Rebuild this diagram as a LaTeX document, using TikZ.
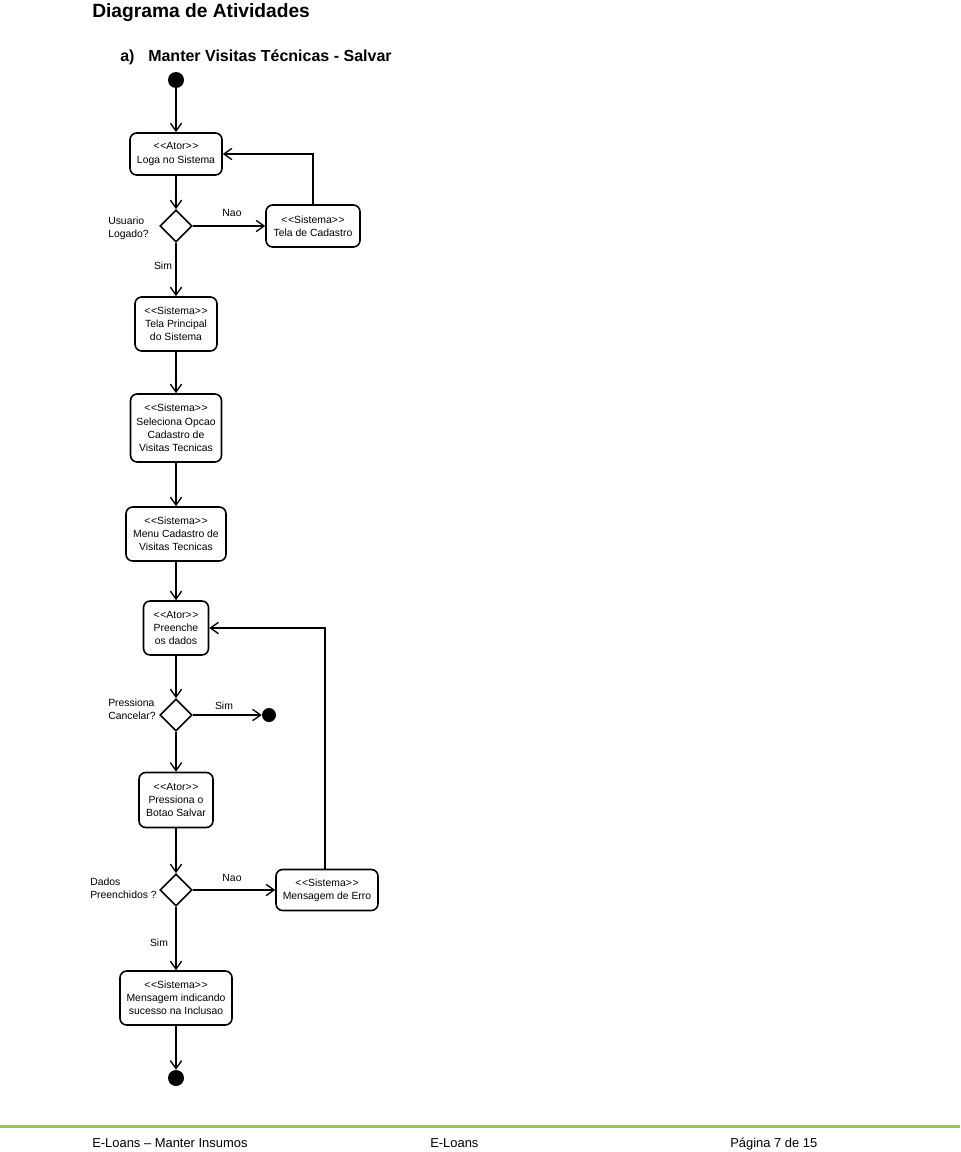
\documentclass[tikz,border=0pt]{standalone}
\usepackage{fontspec}
\setmainfont{Liberation Sans}
\newfontfamily\dia{Liberation Sans}
\usetikzlibrary{shapes.geometric,arrows.meta}
\newcommand\stereo[1]{<\kern0.5pt<#1>\kern0.5pt>}
\definecolor{footgreen}{RGB}{146,200,80}
\begin{document}
\begin{tikzpicture}[x=0.75pt,y=-0.75pt,
  act/.style={draw, line width=1.2pt, rounded corners=5pt, align=center, inner sep=1pt, font=\dia\fontsize{7.8}{9.9}\selectfont},
  dec/.style={draw, diamond, line width=1.2pt, minimum width=24pt, minimum height=24pt, inner sep=0pt},
  flow/.style={line width=1.2pt, -{Straight Barb[length=6pt,width=8.5pt,line width=1pt]}},
  lbl/.style={font=\dia\fontsize{7.8}{9.9}\selectfont, inner sep=0pt},
  dot/.style={circle, fill=black, inner sep=0pt},
  head/.style={anchor=base west, inner sep=0pt, font=\bfseries},
  foot/.style={anchor=base west, inner sep=0pt, font=\fontsize{9.7}{11}\selectfont},
]
\useasboundingbox (0,0) rectangle (960,1152);

% headings
\node[head, font=\fontsize{14.4}{16}\selectfont\bfseries] (title) at (92,17.5) {Diagrama de Atividades};
\node[head, font=\fontsize{12}{14}\selectfont\bfseries] (suba) at (120,62) {a)};
\node[head, font=\fontsize{12}{14}\selectfont\bfseries] (subt) at (148,62) {Manter Visitas Técnicas - Salvar};

% nodes
\node[dot, minimum size=12pt] (start) at (176,80) {};
\node[act, minimum width=69pt, minimum height=31.5pt] (b1) at (176,154) {\stereo{Ator}\\Loga no Sistema};
\node[dec] (d1) at (176,226) {};
\node[lbl, anchor=west, align=left] (q1) at (108,228.5) {Usuario\\Logado?};
\node[act, minimum width=70.5pt, minimum height=31.5pt] (cad) at (313,226) {\stereo{Sistema}\\Tela de Cadastro};
\node[lbl] (nao1) at (232,213) {Nao};
\node[lbl] (sim1) at (163,266) {Sim};
\node[act, minimum width=61.5pt, minimum height=40.5pt] (tp) at (176,324) {\stereo{Sistema}\\Tela Principal\\do Sistema};
\node[act, minimum width=68.25pt, minimum height=51pt] (sel) at (176,428) {\stereo{Sistema}\\Seleciona Opcao\\Cadastro de\\Visitas Tecnicas};
\node[act, minimum width=75pt, minimum height=40.5pt] (menu) at (176,534) {\stereo{Sistema}\\Menu Cadastro de\\Visitas Tecnicas};
\node[act, minimum width=48.75pt, minimum height=40.5pt] (pre) at (176,628) {\stereo{Ator}\\Preenche\\os dados};
\node[dec] (d2) at (176,715) {};
\node[lbl, anchor=west, align=left] (q2) at (108,709.5) {Pressiona\\Cancelar?};
\node[dot, minimum size=10.5pt] (end1) at (269,715) {};
\node[lbl] (sim2) at (224,706) {Sim};
\node[act, minimum width=55.5pt, minimum height=41.25pt] (sal) at (176,800) {\stereo{Ator}\\Pressiona o\\Botao Salvar};
\node[dec] (d3) at (176,890) {};
\node[lbl, anchor=west, align=left] (q3) at (90,888.5) {Dados\\Preenchidos ?};
\node[act, minimum width=76.5pt, minimum height=30.75pt] (erro) at (327,890) {\stereo{Sistema}\\Mensagem de Erro};
\node[lbl] (nao2) at (232,878) {Nao};
\node[lbl] (sim3) at (159,943) {Sim};
\node[act, minimum width=84pt, minimum height=40.5pt] (msg) at (176,998) {\stereo{Sistema}\\Mensagem indicando\\sucesso na Inclusao};
\node[dot, minimum size=12pt] (end2) at (176,1078) {};

% connectors
\draw[flow] (start) -- (b1);
\draw[flow] (b1) -- (d1);
\draw[flow] (d1) -- (cad);
\draw[flow] (cad.north) |- (b1.east);
\draw[flow] (d1) -- (tp);
\draw[flow] (tp) -- (sel);
\draw[flow] (sel) -- (menu);
\draw[flow] (menu) -- (pre);
\draw[flow] (pre) -- (d2);
\draw[flow] (d2) -- (end1);
\draw[flow] (d2) -- (sal);
\draw[flow] (sal) -- (d3);
\draw[flow] (d3) -- (erro);
\draw[flow] ([xshift=-1.5pt]erro.north) |- (pre.east);
\draw[flow] (d3) -- (msg);
\draw[flow] (msg) -- (end2);

% footer
\draw[footgreen, line width=2.25pt] (0,1126) coordinate (fl) -- (960,1126) coordinate (fr);
\node[foot] (f1) at (92,1147) {E-Loans – Manter Insumos};
\node[foot] (f2) at (430,1147) {E-Loans};
\node[foot] (f3) at (730,1147) {Página 7 de 15};
\end{tikzpicture}
\end{document}
